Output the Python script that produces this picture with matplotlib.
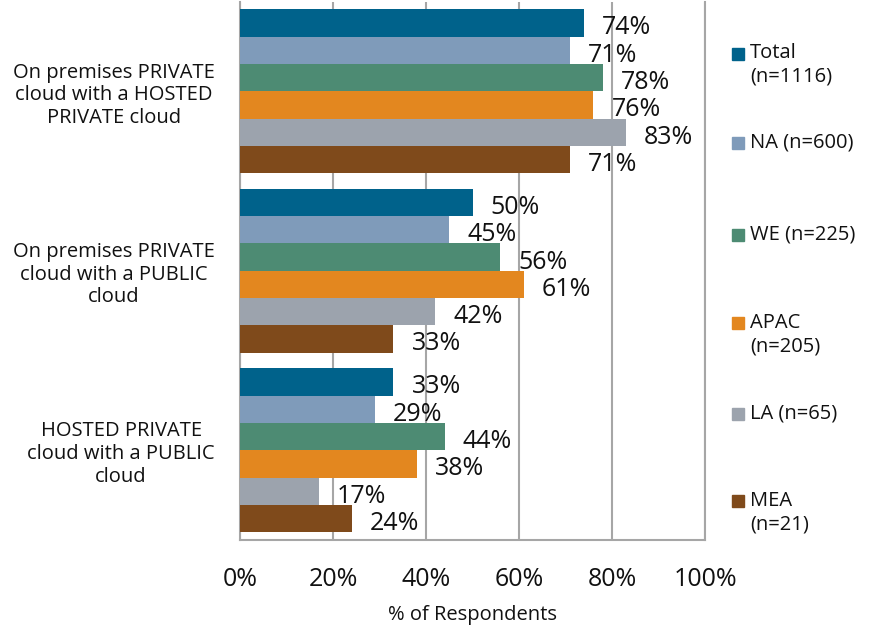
import matplotlib
matplotlib.use("Agg")
import matplotlib.pyplot as plt
from matplotlib.patches import Rectangle
import numpy as np

plt.rcParams['font.family'] = ['Open Sans', 'DejaVu Sans']

categories = ["On premises PRIVATE\ncloud with a HOSTED\nPRIVATE cloud",
              "On premises PRIVATE\ncloud with a PUBLIC\ncloud",
              "HOSTED PRIVATE\ncloud with a PUBLIC\ncloud"]
series = ["Total\n(n=1116)", "NA (n=600)", "WE (n=225)", "APAC\n(n=205)", "LA (n=65)", "MEA\n(n=21)"]
total = [74, 50, 33]
na = [71, 45, 29]
we = [78, 56, 44]
apac = [76, 61, 38]
la = [83, 42, 17]
mea = [71, 33, 24]
values = [total, na, we, apac, la, mea]
colors = ["#00628B", "#7F9BBA", "#4D8B73", "#E3871F", "#9CA3AD", "#7F4A1B"]
xticks = [0, 20, 40, 60, 80, 100]

W, H = 877, 628
fig = plt.figure(figsize=(W/100, H/100), dpi=100)
ax = fig.add_axes([240/W, (H-540)/H, (705-240)/W, (540-1.6)/H])

n = len(series)
bh = 27.3/179.4
for i, (vals, c) in enumerate(zip(values, colors)):
    y = np.arange(len(categories)) + (i - (n-1)/2) * bh
    ax.barh(y, vals, height=bh, color=c, zorder=3)
    for yy, v in zip(y, vals):
        ax.annotate(f"{v}%", (v, yy), xytext=(13, -3.5), textcoords='offset points',
                    va='center', ha='left', fontsize=18, color='#111111', zorder=4)

ax.set_xlim(0, 100)
ax.set_ylim(len(categories)-0.5, -0.5)
ax.set_xticks(xticks)
ax.set_xticklabels([f"{t}%" for t in xticks], fontsize=18, color='#111111')
ax.tick_params(axis='x', length=0, pad=19.5)
ax.set_yticks(range(len(categories)))
ax.set_yticklabels(categories, fontsize=14.5, multialignment='center', color='#111111',
                   linespacing=1.17)
ax.tick_params(axis='y', length=0, pad=18)
for lab in ax.get_yticklabels():
    lab.set_horizontalalignment('right')
ax.grid(axis='x', color='#a6a6a6', linewidth=1.5, zorder=0)
for s in ['left', 'right', 'bottom']:
    ax.spines[s].set_color('#a6a6a6')
    ax.spines[s].set_linewidth(1.5)
ax.spines['top'].set_visible(False)

fig.text(472/W, 1-615/H, "% of Respondents", ha='center', va='center', fontsize=14.5, color='#111111')

# legend
leg_y = [53.5, 143, 235, 323, 414, 501]
for lab, c, yy in zip(series, colors, leg_y):
    fig.patches.append(Rectangle((732/W, 1-(yy+6)/H), 12/W, 12/H, transform=fig.transFigure,
                                 color=c, figure=fig))
    fig.text(750/W, 1-(yy-10.5)/H, lab, ha='left', va='top', fontsize=14.5, color='#111111',
             linespacing=1.24)

fig.savefig("out.png", dpi=100)
